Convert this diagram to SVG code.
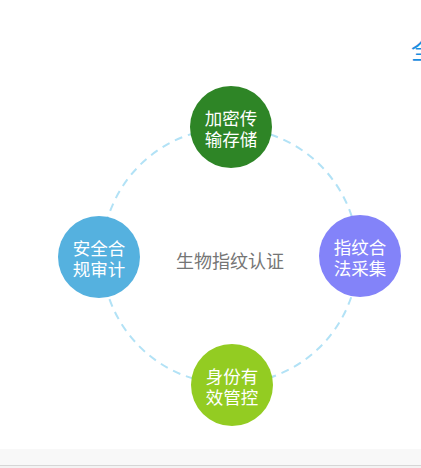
<svg xmlns="http://www.w3.org/2000/svg" width="421" height="468" viewBox="0 0 421 468">
<style>
.lbl{font-family:"Noto Sans CJK SC","Noto Sans",sans-serif;font-size:17.5px;fill:#ffffff;text-anchor:middle}
.ctr{font-family:"Noto Sans CJK SC","Noto Sans",sans-serif;font-size:18px;fill:#757575;text-anchor:middle}
</style>
<rect x="0" y="0" width="421" height="468" fill="#ffffff"/>
<rect x="0" y="449" width="421" height="16" fill="#f8f8f8"/>
<rect x="0" y="465" width="421" height="1" fill="#d6d6d6"/>
<rect x="0" y="466" width="421" height="2" fill="#f3f3f3"/>
<text x="411" y="59" font-family="Noto Sans CJK SC, sans-serif" font-size="24" fill="#1a8fe0">全</text>
<g id="connectors">
<circle cx="230" cy="256" r="128" fill="none" stroke="#b2e2f6" stroke-width="2" stroke-dasharray="8 6"/>
</g>
<g id="center">
<text class="ctr" x="230" y="268">生物指纹认证</text>
</g>
<g id="node-top">
<circle cx="231" cy="127" r="41" fill="#2e8526"/>
<text class="lbl" x="231" y="124.5">加密传</text>
<text class="lbl" x="231" y="146">输存储</text>
</g>
<g id="node-right">
<circle cx="360" cy="256" r="41" fill="#8383f9"/>
<text class="lbl" x="360" y="253.5">指纹合</text>
<text class="lbl" x="360" y="275">法采集</text>
</g>
<g id="node-bottom">
<circle cx="232" cy="385" r="41" fill="#93cc22"/>
<text class="lbl" x="232" y="382.5">身份有</text>
<text class="lbl" x="232" y="404">效管控</text>
</g>
<g id="node-left">
<circle cx="99" cy="257" r="41" fill="#55b1df"/>
<text class="lbl" x="99" y="254.5">安全合</text>
<text class="lbl" x="99" y="276">规审计</text>
</g>
</svg>
